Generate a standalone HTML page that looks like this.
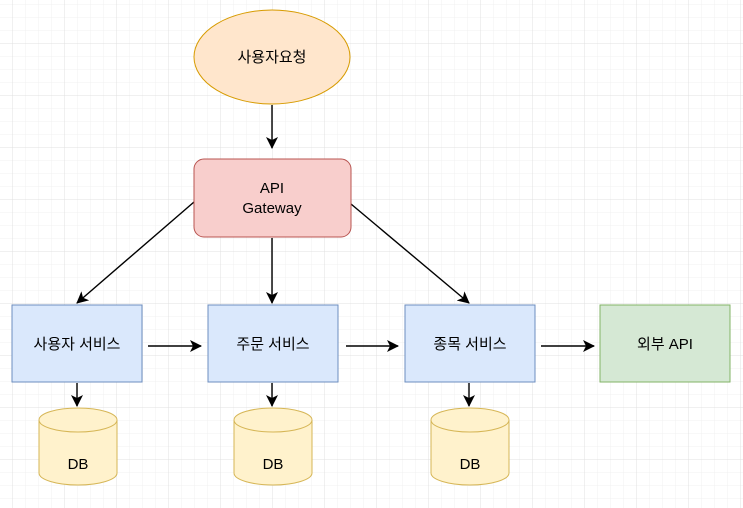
<html><body style="margin:0">
<svg width="743" height="508" xmlns="http://www.w3.org/2000/svg" font-family="Liberation Sans, Noto Sans CJK KR, sans-serif" font-size="15">
<defs>
<pattern id="g" width="13" height="13" patternUnits="userSpaceOnUse" x="0" y="5"><path d="M13 0V13H0" fill="none" stroke="#f0f0f0" stroke-width="1"/></pattern>
<pattern id="G" width="52" height="52" patternUnits="userSpaceOnUse" x="13" y="44"><path d="M52 0V52H0" fill="none" stroke="#e0e0e0" stroke-width="1"/></pattern>
<marker id="a" markerWidth="12" markerHeight="12" refX="11" refY="6" orient="auto" markerUnits="userSpaceOnUse"><path d="M0 0L12 6L0 12L3 6Z" fill="#000"/></marker>
</defs>
<rect width="743" height="508" fill="#fff"/>
<rect width="743" height="508" fill="url(#g)"/>
<rect width="743" height="508" fill="url(#G)"/>
<g stroke="#000" stroke-width="1.4" fill="none" marker-end="url(#a)">
<line x1="272" y1="105" x2="272" y2="148"/>
<line x1="194" y1="202" x2="77" y2="303"/>
<line x1="272" y1="238" x2="272" y2="303"/>
<line x1="351" y1="204" x2="469" y2="303"/>
<line x1="148" y1="346" x2="201" y2="346"/>
<line x1="346" y1="346" x2="398" y2="346"/>
<line x1="541" y1="346" x2="594" y2="346"/>
<line x1="77" y1="383" x2="77" y2="406"/>
<line x1="272" y1="383" x2="272" y2="406"/>
<line x1="469" y1="383" x2="469" y2="406"/>
</g>
<ellipse cx="272" cy="57" rx="78" ry="47" fill="#ffe6cc" stroke="#d79b00"/>
<text x="272" y="62" text-anchor="middle">사용자요청</text>
<rect x="194" y="159" width="157" height="78" rx="10" fill="#f8cecc" stroke="#b85450"/>
<text x="272" y="193" text-anchor="middle">API</text>
<text x="272" y="213" text-anchor="middle">Gateway</text>
<g fill="#dae8fc" stroke="#6c8ebf">
<rect x="12" y="305" width="130" height="77"/>
<rect x="208" y="305" width="130" height="77"/>
<rect x="405" y="305" width="130" height="77"/>
</g>
<rect x="600" y="305" width="130" height="77" fill="#d5e8d4" stroke="#82b366"/>
<g text-anchor="middle">
<text x="77" y="349">사용자 서비스</text>
<text x="273" y="349">주문 서비스</text>
<text x="470" y="349">종목 서비스</text>
<text x="665" y="349">외부 API</text>
</g>
<g fill="#fff2cc" stroke="#d6b656">
<path d="M39 420A39 12 0 0 1 117 420V473A39 12 0 0 1 39 473Z"/><path d="M39 420A39 12 0 0 0 117 420" fill="none"/>
<path d="M234 420A39 12 0 0 1 312 420V473A39 12 0 0 1 234 473Z"/><path d="M234 420A39 12 0 0 0 312 420" fill="none"/>
<path d="M431 420A39 12 0 0 1 509 420V473A39 12 0 0 1 431 473Z"/><path d="M431 420A39 12 0 0 0 509 420" fill="none"/>
</g>
<g text-anchor="middle"><text x="78" y="469">DB</text><text x="273" y="469">DB</text><text x="470" y="469">DB</text></g>
</svg>
</body></html>
